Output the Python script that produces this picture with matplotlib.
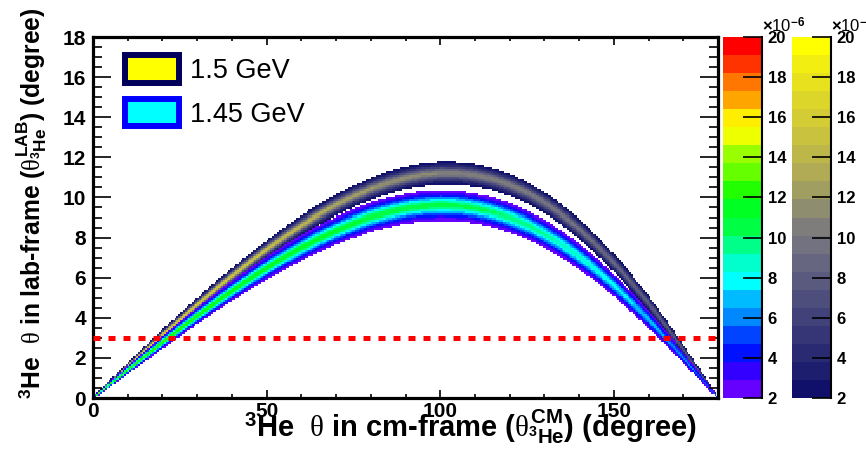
import numpy as np
import matplotlib
matplotlib.use("Agg")
import matplotlib.pyplot as plt
from matplotlib.colors import ListedColormap, BoundaryNorm
from matplotlib.cm import ScalarMappable
from matplotlib.patches import Patch
from matplotlib.ticker import MultipleLocator

plt.rcParams["font.family"] = ["Liberation Sans", "DejaVu Sans"]
plt.rcParams["mathtext.fontset"] = "custom"
plt.rcParams["mathtext.rm"] = "Liberation Sans:bold"
plt.rcParams["mathtext.bf"] = "Liberation Sans:bold"
plt.rcParams["mathtext.it"] = "Liberation Serif"
plt.rcParams["mathtext.sf"] = "Liberation Sans"

# ridge of each band: 3He lab angle vs cm angle (degree)
theta_cm = np.arange(0, 181, 5)
lab_150 = [0.00, 0.80, 1.59, 2.38, 3.16, 3.92, 4.67, 5.40, 6.10, 6.78,
           7.43, 8.04, 8.61, 9.14, 9.62, 10.04, 10.41, 10.71, 10.95, 11.11,
           11.19, 11.18, 11.09, 10.90, 10.62, 10.23, 9.74, 9.14, 8.45, 7.65,
           6.76, 5.78, 4.73, 3.61, 2.43, 1.23, 0.00]
lab_145 = [0.00, 0.70, 1.40, 2.09, 2.78, 3.45, 4.10, 4.74, 5.35, 5.94,
           6.50, 7.02, 7.51, 7.96, 8.36, 8.71, 9.02, 9.25, 9.44, 9.55,
           9.59, 9.57, 9.46, 9.27, 9.00, 8.65, 8.21, 7.69, 7.08, 6.40,
           5.64, 4.81, 3.93, 2.99, 2.01, 1.02, 0.00]

# band height on the ridge (x1e-6) and full width above 2e-6 (degree),
# every 20 degree in cm
shape_cm = [0, 20, 40, 60, 80, 100, 120, 140, 160, 180]
peak_150 = [17, 16, 15.5, 14, 12, 11, 10.5, 9.5, 8, 7]
width_150 = [0.15, 0.55, 0.8, 1.0, 1.1, 1.15, 1.1, 1.0, 0.8, 0.15]
peak_145 = [13, 12.5, 12, 11.5, 11, 10.8, 10, 8.8, 7, 5]
width_145 = [0.15, 0.65, 1.0, 1.3, 1.45, 1.5, 1.45, 1.3, 0.9, 0.15]

levels = np.linspace(2, 20, 21)
rainbow = ["#6600ff", "#3300ff", "#0011ff", "#0044ff", "#0088ff",
           "#00bbff", "#00ffff", "#00ffcc", "#00ff88", "#00ff44",
           "#00ff22", "#22ff00", "#66ff00", "#99ff00", "#eeff00",
           "#ffee00", "#ffa500", "#ff7700", "#ff3300", "#ff0000"]
cividis = ["#10106a", "#1e1e6e", "#2a2a72", "#363676", "#42427a",
           "#4e4e7c", "#5a5a7e", "#666680", "#727280", "#7e7d7c",
           "#8f8d70", "#a19e62", "#b1ab56", "#bdb74a", "#c9c23e",
           "#d3cc34", "#ddd62a", "#e8e21e", "#f2ee12", "#ffff00"]

x_edges = np.arange(0, 180.001, 0.5)
y_edges = np.arange(0, 18.001, 0.1)
xc = 0.5 * (x_edges[1:] + x_edges[:-1])
yc = 0.5 * (y_edges[1:] + y_edges[:-1])


def band(ridge, peak, width):
    c = np.interp(xc, theta_cm, ridge)
    p = np.interp(xc, shape_cm, peak)
    half = 0.5 * np.interp(xc, shape_cm, width)
    # rounded top, exponential tails; scale so the 2e-6 contour sits at +-half
    lg = 1 + np.log(p / 2)
    s = half / np.sqrt(lg ** 2 - 1)
    d = (yc[:, None] - c[None, :]) / s[None, :]
    z = p[None, :] * np.exp(1 - np.sqrt(1 + d ** 2))
    return np.ma.masked_less(z, 2)


fig = plt.figure(figsize=(8.66, 4.66), dpi=100)
W, H = 866, 466
ax = fig.add_axes([93 / W, 68 / H, 625 / W, 361 / H])

cmap_a = ListedColormap(cividis)
cmap_b = ListedColormap(rainbow)
norm_a = BoundaryNorm(levels, 20, clip=True)
norm_b = BoundaryNorm(levels, 20, clip=True)

ax.pcolormesh(x_edges, y_edges, band(lab_150, peak_150, width_150),
              cmap=cmap_a, norm=norm_a)
ax.pcolormesh(x_edges, y_edges, band(lab_145, peak_145, width_145),
              cmap=cmap_b, norm=norm_b)

ax.axhline(3, color="#ff0000", lw=3.6, dashes=(1.4, 1.6),
           dash_capstyle="butt", zorder=5)

ax.set_xlim(0, 180)
ax.set_ylim(0, 18)
ax.set_xticks([0, 50, 100, 150])
ax.xaxis.set_minor_locator(MultipleLocator(10))
ax.yaxis.set_major_locator(MultipleLocator(2))
ax.yaxis.set_minor_locator(MultipleLocator(0.5))
ax.tick_params(which="both", direction="in", top=True, right=True, width=1.2)
ax.tick_params(axis="x", which="major", length=5.8, pad=3, labelsize=15)
ax.tick_params(axis="x", which="minor", length=2.9)
ax.tick_params(axis="y", which="major", length=13, pad=5, labelsize=15)
ax.tick_params(axis="y", which="minor", length=6.5)
for lab in ax.get_xticklabels() + ax.get_yticklabels():
    lab.set_fontweight("bold")
for sp in ax.spines.values():
    sp.set_linewidth(2.3)

handles = [Patch(facecolor="#ffff00", edgecolor="#00005a", linewidth=4.3),
           Patch(facecolor="#00ffff", edgecolor="#0000ff", linewidth=4.3)]
ax.legend(handles, ["1.5 GeV", "1.45 GeV"], loc="upper left",
          bbox_to_anchor=(0.051, 0.950), frameon=False, fontsize=19.5,
          handlelength=2.0, handleheight=1.19, handletextpad=0.4,
          labelspacing=0.55, borderpad=0, borderaxespad=0)

fig.text(471 / W, 1 - 437 / H,
         r"$^{3}$He  $\theta$ in cm-frame ($\theta^{\mathrm{CM}}_{^{3}\mathrm{He}}$) (degree)",
         ha="center", va="baseline", fontsize=21, fontweight="bold")
fig.text(32 / W, 1 - 203 / H,
         r"$^{3}$He  $\theta$ in lab-frame ($\theta^{\mathrm{LAB}}_{^{3}\mathrm{He}}$) (degree)",
         ha="center", va="center", rotation=90, fontsize=17.7, fontweight="bold")

# palettes
for left, cmap, norm in [(723, cmap_b, norm_b), (792, cmap_a, norm_a)]:
    cax = fig.add_axes([left / W, 68 / H, 39 / W, 361 / H])
    cb = fig.colorbar(ScalarMappable(norm=norm, cmap=cmap), cax=cax,
                      ticks=range(2, 21, 2))
    cb.outline.set_visible(False)
    cax.plot([1, 1], [0, 1], transform=cax.transAxes, color="k", lw=1.5,
             clip_on=False)
    cax.tick_params(direction="in", length=13.5, width=1.2, pad=4,
                    labelsize=12, right=True, left=False)
    cax.tick_params(which="minor", length=0)
    for lab in cax.get_yticklabels():
        lab.set_fontweight("bold")
    fig.text((left + 39) / W, 1 - 32 / H, r"$\times$10$^{-6}$",
             ha="left", va="baseline", fontsize=12)

fig.savefig("out.png", dpi=100)
